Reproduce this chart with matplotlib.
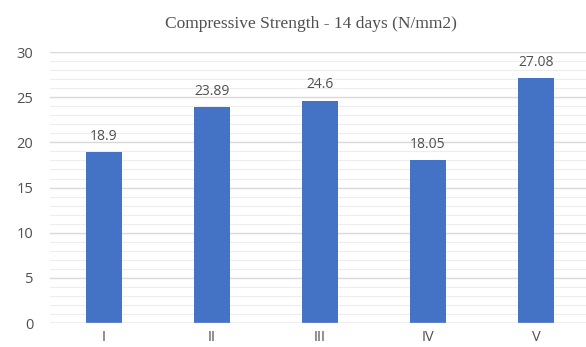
import matplotlib.pyplot as plt
from matplotlib.ticker import MultipleLocator

mixes = ["I", "II", "III", "IV", "V"]
strength = [18.9, 23.89, 24.6, 18.05, 27.08]
value_labels = ["18.9", "23.89", "24.6", "18.05", "27.08"]

fig = plt.figure(figsize=(5.86, 3.47), dpi=100)
ax = fig.add_axes([0.0853, 0.069, 0.9215, 0.781])

x = range(len(mixes))
bars = ax.bar(x, strength, width=0.33, color="#4472C4", zorder=3)

for b, lab in zip(bars, value_labels):
    ax.annotate(lab, (b.get_x() + b.get_width() / 2, b.get_height()),
                xytext=(0, 6), textcoords="offset points",
                ha="center", va="bottom", fontsize=10, color="#505050",
                family="Open Sans")

ax.set_xlim(-0.5, 4.5)
ax.set_ylim(0, 30)
ax.yaxis.set_major_locator(MultipleLocator(5))
ax.yaxis.set_minor_locator(MultipleLocator(1))
ax.grid(axis="y", which="major", color="#d9d9d9", linewidth=1, zorder=0)
ax.grid(axis="y", which="minor", color="#ededed", linewidth=0.8, zorder=0)

ax.set_xticks(list(x))
ax.set_xticklabels(mixes)
for s in ax.spines.values():
    s.set_visible(False)
ax.axhline(0, color="#d0d0d0", linewidth=1, zorder=4)
ax.tick_params(axis="both", which="both", length=0, colors="#505050", labelsize=10.5)
ax.tick_params(axis="x", pad=5)
ax.tick_params(axis="y", pad=12)
for t in ax.get_xticklabels() + ax.get_yticklabels():
    t.set_family("Open Sans")

fig.text(0.53, 0.93, "Compressive Strength - 14 days (N/mm2)", ha="center", va="center",
         fontsize=12.5, color="#505050", family="Liberation Serif")

fig.savefig("out.png", dpi=100)
